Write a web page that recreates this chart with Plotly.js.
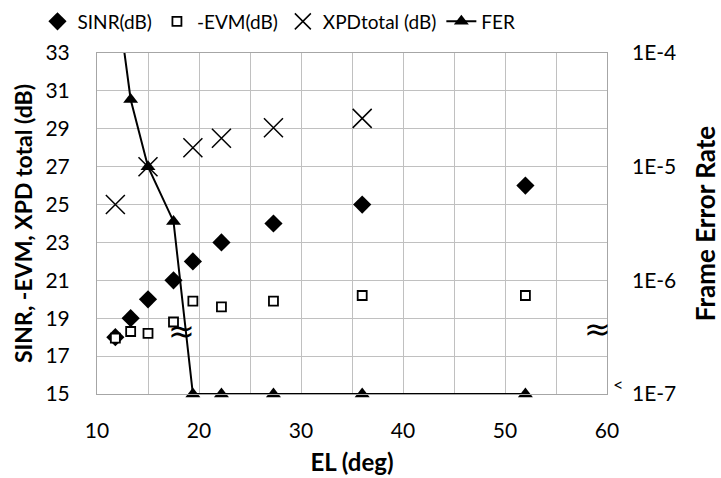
<!DOCTYPE html>
<html>
<head>
<meta charset="utf-8">
<script src="https://cdn.plot.ly/plotly-3.0.1.min.js"></script>
<style>
  html, body { margin: 0; padding: 0; background: #fff; }
  #chart { width: 721px; height: 478px; }
</style>
</head>
<body>
<div id="chart"></div>
<script>
// Elevation angle of each measurement (deg)
const elevation = [11.8, 13.3, 15.0, 17.5, 19.4, 22.2, 27.3, 36.0, 52.0];
// Left-axis quantities (dB)
const sinrDb = [18, 19, 20, 21, 22, 23, 24, 25, 26];
const negEvmDb = [17.95, 18.3, 18.2, 18.8, 19.9, 19.6, 19.9, 20.2, 20.2];
const xpdTotalDb = [25, null, 27, null, 28, 28.5, 29.05, 29.55, null];
// Right-axis quantity: frame error rate (values at 1E-7 mean "below 1E-7")
const frameErrorRate = [4e-4, 3.9e-5, 1e-5, 3.3e-6, 1e-7, 1e-7, 1e-7, 1e-7, 1e-7];

// Axis ticks
const xTicks = [10, 20, 30, 40, 50, 60];
const yTicks = [15, 17, 19, 21, 23, 25, 27, 29, 31, 33];
const ferTickVals = [1e-7, 1e-6, 1e-5, 1e-4];
const ferTickText = ['1E-7', '1E-6', '1E-5', '1E-4'];

const FONT = 'Lato, sans-serif';
const GRID = '#c0c0c0';

const traces = [
  {
    name: 'SINR(dB)', x: elevation, y: sinrDb, type: 'scatter', mode: 'markers',
    marker: { symbol: 'diamond', size: 14, color: '#000' },
    cliponaxis: false
  },
  {
    name: '-EVM(dB)', x: elevation, y: negEvmDb, type: 'scatter', mode: 'markers',
    marker: { symbol: 'square', size: 9, color: '#fff', line: { color: '#000', width: 1.8 } },
    cliponaxis: false
  },
  {
    name: 'XPDtotal (dB)', x: elevation, y: xpdTotalDb, type: 'scatter', mode: 'markers',
    marker: { symbol: 'x-thin-open', size: 19, color: '#000', line: { color: '#000', width: 1.5 } },
    cliponaxis: false
  },
  {
    name: 'FER', x: elevation, y: frameErrorRate, yaxis: 'y2', type: 'scatter', mode: 'lines+markers',
    line: { color: '#000', width: 2 },
    marker: { symbol: 'triangle-up', color: '#000', size: 13 },
    cliponaxis: false
  }
];

const layout = {
  width: 721, height: 478,
  margin: { l: 97, r: 114, t: 53, b: 84 },
  paper_bgcolor: '#fff', plot_bgcolor: '#fff',
  font: { family: FONT, size: 21, color: '#000' },
  showlegend: true,
  legend: {
    orientation: 'h', x: 0.052, xref: 'container', xanchor: 'left',
    y: 0.955, yref: 'container', yanchor: 'middle',
    font: { family: FONT, size: 19 }, itemwidth: 30, tracegroupgap: 0,
    bgcolor: 'rgba(0,0,0,0)'
  },
  xaxis: {
    range: [10, 60], tickvals: xTicks, ticks: '', ticklabelstandoff: 18,
    tickfont: { size: 21 },
    showgrid: true, gridcolor: GRID, gridwidth: 1,
    minor: { dtick: 5, showgrid: true, gridcolor: GRID, gridwidth: 1 },
    showline: true, linecolor: '#a6a6a6', linewidth: 1, mirror: true, zeroline: false,
    title: { text: '<b>EL (deg)</b>', font: { family: FONT, size: 24 }, standoff: 12 }
  },
  yaxis: {
    range: [15, 33], tickvals: yTicks, ticks: '', ticklabelstandoff: 22,
    tickfont: { size: 21 },
    showgrid: true, gridcolor: GRID, gridwidth: 1,
    showline: true, linecolor: '#a6a6a6', linewidth: 1, mirror: true, zeroline: false,
    title: { text: '<b>SINR, -EVM, XPD total (dB)</b>', font: { family: FONT, size: 23 }, standoff: 6 }
  },
  yaxis2: {
    type: 'log', range: [-7, -4], overlaying: 'y', side: 'right',
    tickvals: ferTickVals, ticktext: ferTickText, ticks: '', ticklabelstandoff: 24,
    tickfont: { size: 21 },
    showgrid: false, showline: false, zeroline: false,
    title: { text: '<b>Frame Error Rate</b>', font: { family: FONT, size: 26 }, standoff: 22 }
  },
  annotations: [
    // axis-break marks
    { xref: 'x', yref: 'y', x: 18.3, y: 18.3, xanchor: 'center', yanchor: 'middle',
      text: '≈', showarrow: false, font: { family: 'DejaVu Sans', size: 32, color: '#000' } },
    { xref: 'x', yref: 'y', x: 59.1, y: 18.45, xanchor: 'center', yanchor: 'middle',
      text: '≈', showarrow: false, font: { family: 'DejaVu Sans', size: 32, color: '#000' } },
    { xref: 'paper', yref: 'paper', x: 1.022, y: 0.028, xanchor: 'center', yanchor: 'middle',
      text: '<', showarrow: false, font: { family: FONT, size: 18, color: '#000' } }
  ]
};

Plotly.newPlot('chart', traces, layout, { displayModeBar: false, staticPlot: true });
</script>
</body>
</html>
